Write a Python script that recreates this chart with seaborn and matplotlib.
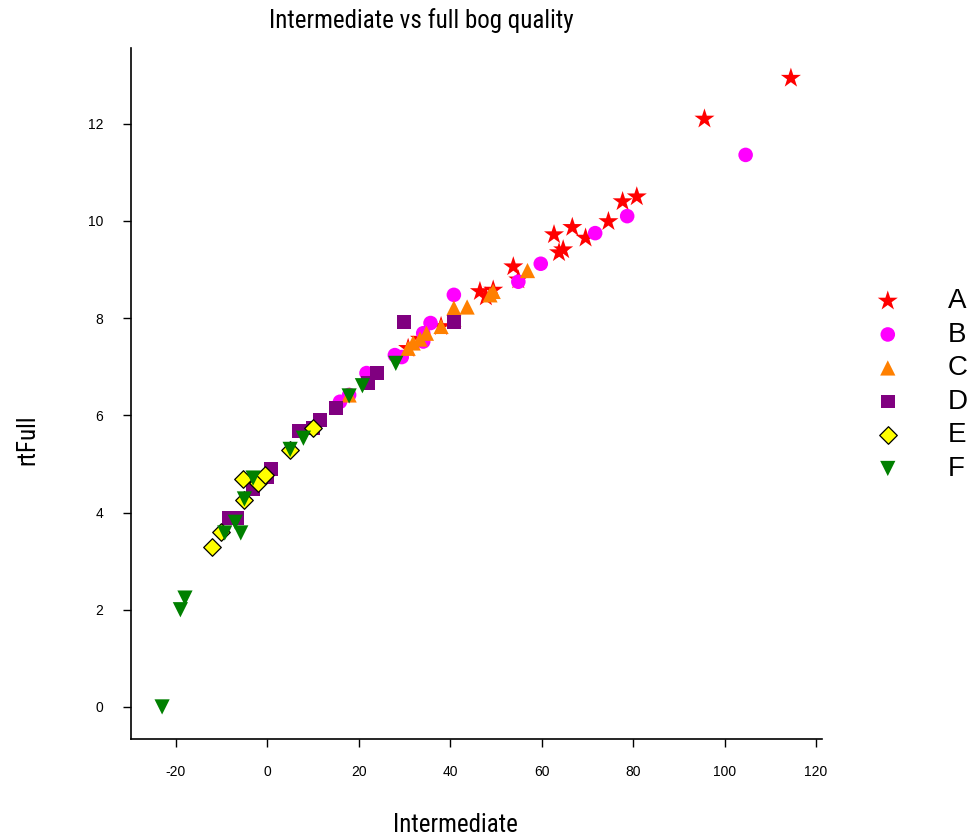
import matplotlib
matplotlib.use("Agg")
import matplotlib.pyplot as plt
from matplotlib import font_manager as fm
import seaborn as sns
import pandas as pd

groups = ["A", "B", "C", "D", "E", "F"]

a_x = [114.5, 95.6, 80.8, 77.7, 74.6, 69.6, 66.7, 62.7, 63.8, 64.7, 53.8, 54.9, 46.5, 47.8, 49.4, 38.0, 33.4, 30.8]
a_y = [12.94, 12.10, 10.50, 10.40, 9.99, 9.65, 9.87, 9.72, 9.35, 9.41, 9.06, 8.79, 8.55, 8.44, 8.58, 7.83, 7.57, 7.38]

b_x = [104.6, 78.7, 71.7, 59.8, 54.9, 40.8, 35.7, 34.1, 34.1, 29.4, 27.9, 21.7, 17.9, 15.9]
b_y = [11.36, 10.10, 9.75, 9.12, 8.75, 8.48, 7.90, 7.69, 7.52, 7.20, 7.24, 6.87, 6.42, 6.28]

c_x = [56.9, 49.4, 48.7, 43.7, 40.8, 40.8, 38.0, 34.8, 33.4, 31.9, 30.8, 17.9]
c_y = [8.98, 8.55, 8.48, 8.23, 8.21, 7.98, 7.83, 7.69, 7.57, 7.49, 7.38, 6.42]

d_x = [40.8, 29.9, 24.0, 22.1, 15.0, 11.5, 10.0, 7.0, 0.9, 0.05, -3.1, -6.7, -8.3]
d_y = [7.93, 7.93, 6.88, 6.66, 6.15, 5.91, 5.74, 5.68, 4.89, 4.74, 4.48, 3.88, 3.88]

e_x = [-12.05, -10.2, -5.05, -5.3, -2.0, -0.5, 4.9, 10.0]
e_y = [3.30, 3.61, 4.25, 4.69, 4.60, 4.78, 5.28, 5.74]

f_x = [-23.0, -19.0, -18.0, -9.3, -5.8, -7.0, -5.0, -3.1, 5.0, 7.9, 17.9, 20.8, 28.1]
f_y = [0.0, 2.00, 2.24, 3.58, 3.58, 3.80, 4.28, 4.71, 5.30, 5.53, 6.40, 6.61, 7.07]

x_ticks = [-20, 0, 20, 40, 60, 80, 100, 120]
y_ticks = [0, 2, 4, 6, 8, 10, 12]

colors = {"A": "#FF0000", "B": "#FF00FF", "C": "#FF8000", "D": "#800080", "E": "#FFFF00", "F": "#008000"}
markers = {"A": "*", "B": "o", "C": "^", "D": "s", "E": "D", "F": "v"}
sizes = {"A": 230, "B": 110, "C": 120, "D": 100, "E": 80, "F": 120}

frames = []
for g, xs, ys in zip(groups, [a_x, b_x, c_x, d_x, e_x, f_x], [a_y, b_y, c_y, d_y, e_y, f_y]):
    frames.append(pd.DataFrame({"Intermediate": xs, "rtFull": ys, "grp": g}))
df = pd.concat(frames, ignore_index=True)

sns.set_style("white")
plt.rcParams["font.family"] = ["Liberation Sans", "DejaVu Sans"]
plt.rcParams["axes.unicode_minus"] = False
plt.rcParams["text.color"] = "black"
plt.rcParams["xtick.color"] = "black"
plt.rcParams["ytick.color"] = "black"

# choose a condensed font if one is installed
narrow_family = None
narrow_stretch = "normal"
names = {f.name for f in fm.fontManager.ttflist}
for cand in ["Liberation Sans Narrow", "Roboto Condensed", "Open Sans Condensed", "Noto Sans Condensed"]:
    if cand in names:
        narrow_family = cand
        break
if narrow_family is None:
    for f in fm.fontManager.ttflist:
        if f.name in ("DejaVu Sans", "Noto Sans", "Open Sans", "Roboto") and str(f.stretch) in ("condensed", "semi-condensed", "75", "87.5", "semicondensed"):
            narrow_family = f.name
            narrow_stretch = f.stretch
            break
if narrow_family is None:
    narrow_family = "Liberation Sans"

fig = plt.figure(figsize=(9.68, 8.39), dpi=100)
ax = fig.add_axes([131 / 968, 1 - 739 / 839, (822 - 131) / 968, (739 - 48) / 839])

for g in groups:
    sub = df[df["grp"] == g]
    ec = "black" if g == "E" else "none"
    sns.scatterplot(data=sub, x="Intermediate", y="rtFull", ax=ax, color=colors[g],
                    marker=markers[g], s=sizes[g], edgecolor=ec, linewidth=0.9 if g == "E" else 0,
                    label=g, legend=True)

ax.set_xlim(-29.8, 121.3)
ax.set_ylim(-0.66, 13.56)
ax.set_xticks(x_ticks)
ax.set_yticks(y_ticks)
ax.set_xticklabels([str(t) for t in x_ticks])
ax.set_yticklabels([str(t) for t in y_ticks])
ax.tick_params(axis="both", direction="out", length=6, width=1, labelsize=10,
               bottom=True, left=True, color="black", labelcolor="black")
ax.tick_params(axis="x", pad=13)
ax.tick_params(axis="y", pad=14)
for side in ["top", "right"]:
    ax.spines[side].set_visible(False)
for side in ["left", "bottom"]:
    ax.spines[side].set_color("black")
    ax.spines[side].set_linewidth(1.2)

ax.set_xlabel("")
ax.set_ylabel("")
fp = dict(family=narrow_family, stretch=narrow_stretch)
fig.text(421 / 968, 1 - 21 / 839, "Intermediate vs full bog quality", ha="center", va="center",
         fontsize=18, color="black", **fp)
fig.text(455 / 968, 1 - 825 / 839, "Intermediate", ha="center", va="center", fontsize=18, color="black", **fp)
fig.text(27 / 968, 1 - 440 / 839, "rtFull", ha="center", va="center", rotation=90, fontsize=18,
         color="black", **fp)

leg = ax.legend(loc="center left", bbox_to_anchor=(860 / 968, 1 - 385 / 839), bbox_transform=fig.transFigure,
                frameon=False, fontsize=20, handlelength=2.0, handletextpad=1.15, labelspacing=0.27,
                borderpad=0, borderaxespad=0)

fig.savefig("out.png", dpi=100)
